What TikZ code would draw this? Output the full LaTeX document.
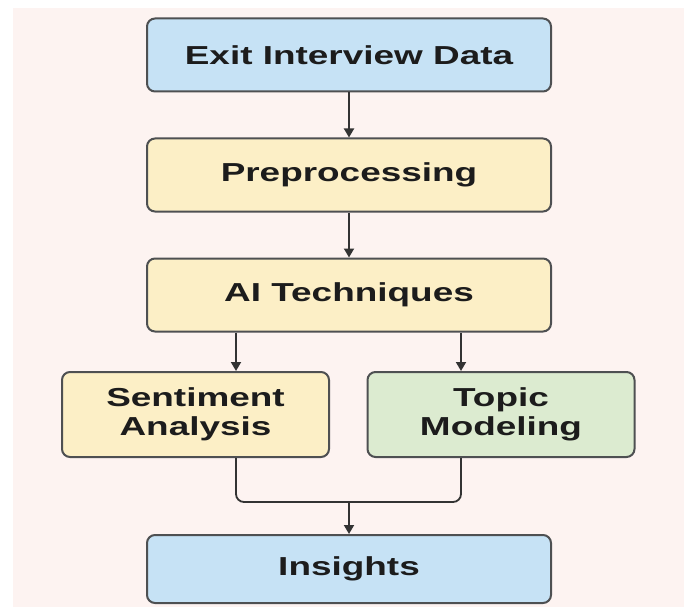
\documentclass[tikz,border=0pt]{standalone}
\usepackage{fontspec}
\setmainfont{Liberation Sans}[FakeStretch=1.42]
\usetikzlibrary{arrows.meta}
\definecolor{bgpink}{HTML}{FDF3F1}
\definecolor{boxblue}{HTML}{C6E2F5}
\definecolor{boxyellow}{HTML}{FCEFC6}
\definecolor{boxgreen}{HTML}{DCEBD0}
\definecolor{edgegray}{HTML}{4E5052}
\definecolor{txt}{HTML}{1C1C1C}
\begin{document}
\begin{tikzpicture}[x=1pt,y=-1pt,
  box/.style={draw=edgegray, line width=2pt, rounded corners=8pt, text=txt,
    font=\fontsize{26}{29}\selectfont\bfseries, align=center, inner sep=0pt},
  wide/.style={box, minimum width=404pt, minimum height=73pt},
  half/.style={box, minimum width=267pt, minimum height=85pt},
  conn/.style={draw=black!80, line width=1.8pt},
  arr/.style={conn, -{Triangle[length=9pt,width=10pt]}}]
\useasboundingbox (0,0) rectangle (691,607);
\fill[white] (0,0) rectangle (691,607);
\fill[bgpink] (13,8) rectangle (684,607);
\node[wide, fill=boxblue] (exit) at (349,55) {Exit Interview Data};
\node[wide, fill=boxyellow] (pre) at (349,175) {Preprocessing};
\node[wide, fill=boxyellow] (ai) at (349,295) {AI Techniques};
\node[half, fill=boxyellow] (sent) at (195.5,414.5) {Sentiment\\Analysis};
\node[half, fill=boxgreen] (topic) at (501,414.5) {Topic\\Modeling};
\node[box, fill=boxblue, minimum width=404pt, minimum height=68pt] (ins) at (349,569) {Insights};
\coordinate (lx) at (236,0);
\coordinate (rx) at (461,0);
\coordinate (mid) at (349,502);
\draw[arr] (exit.south) -- (pre.north);
\draw[arr] (pre.south) -- (ai.north);
\draw[arr] (ai.south -| lx) -- (sent.north -| lx);
\draw[arr] (ai.south -| rx) -- (topic.north -| rx);
\draw[conn, rounded corners=8pt] (sent.south -| lx) -- (lx |- mid) -- (rx |- mid) -- (topic.south -| rx);
\draw[arr] (mid) -- (ins.north);
\end{tikzpicture}
\end{document}
